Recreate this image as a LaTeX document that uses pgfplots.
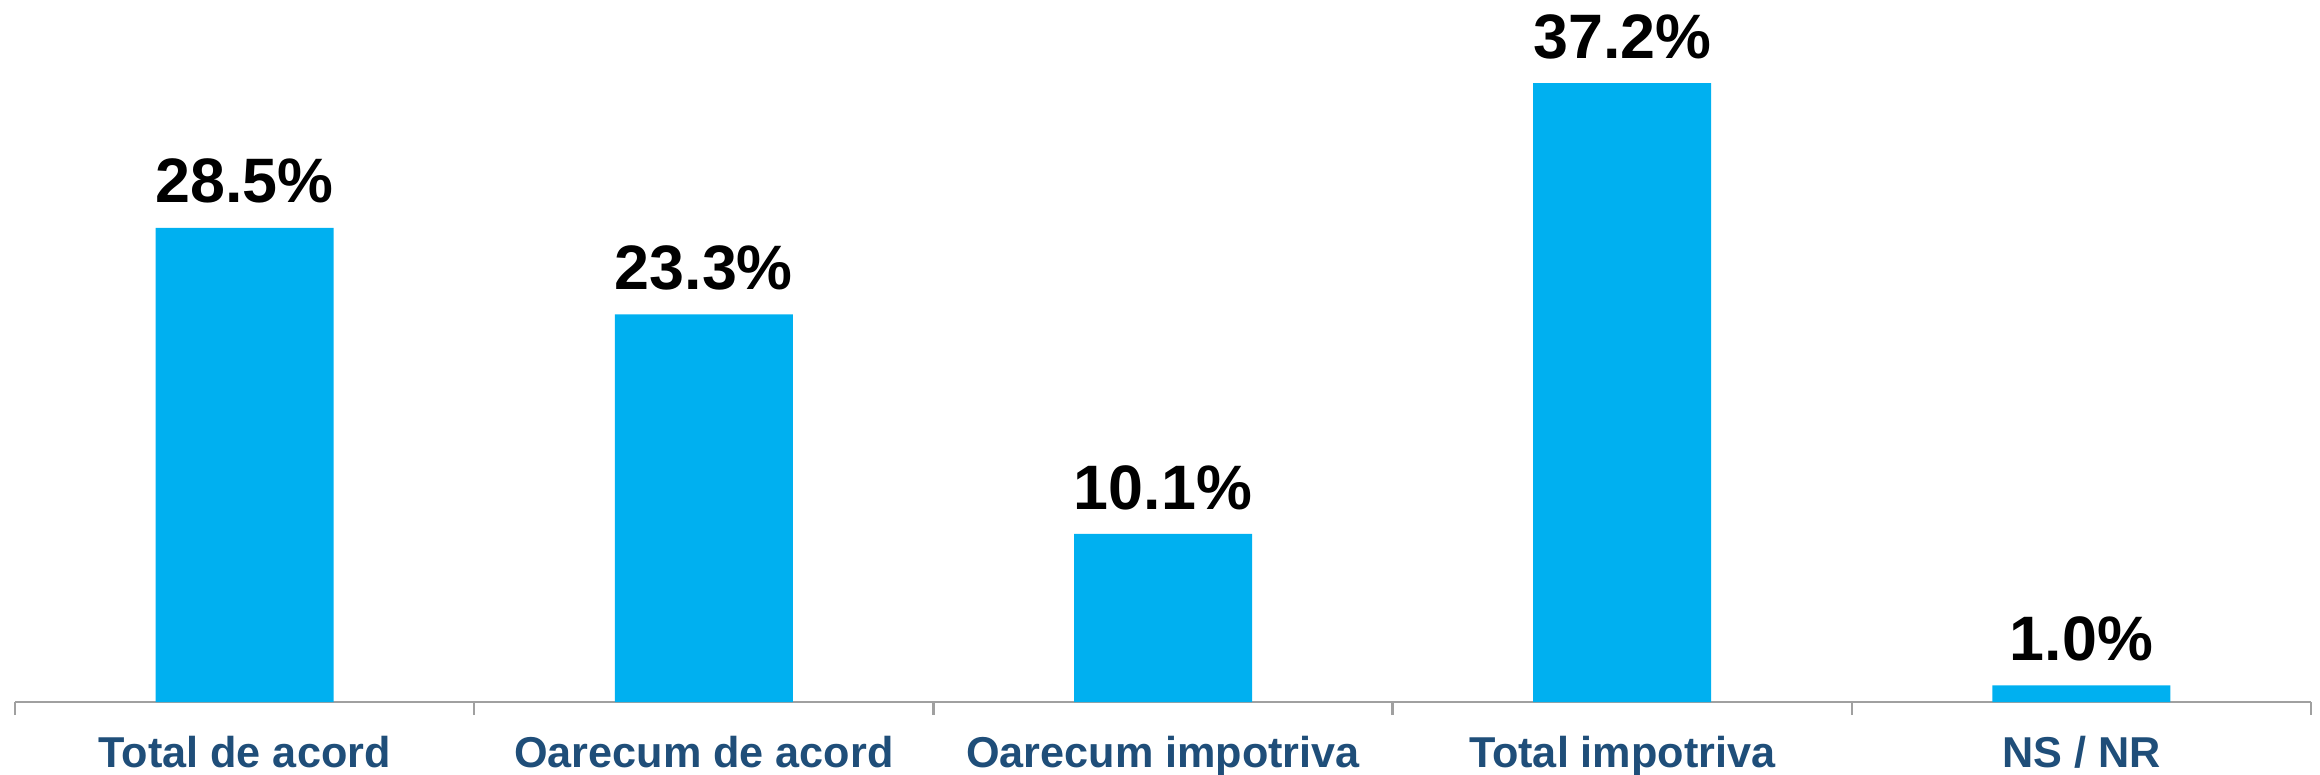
\documentclass[border=0pt]{standalone}
\usepackage{pgfplots}
\pgfplotsset{compat=1.18}
\usepackage{fontspec}
\setmainfont{Liberation Sans}
\definecolor{barblue}{HTML}{00B0F0}
\definecolor{labblue}{HTML}{1F4E79}
\definecolor{axgray}{HTML}{A0A0A0}
\begin{document}
\begin{tikzpicture}
% fixed page: 580pt x 193.5pt, axis line at y=0
\useasboundingbox (-3.75pt,-18pt) rectangle (576.25pt,175.5pt);
\begin{axis}[
    scale only axis,
    width=574pt,
    height=166.4pt,
    xmin=-0.5, xmax=4.5,
    ymin=0, ymax=40,
    axis x line*=bottom,
    axis y line=none,
    axis line style={axgray, line width=0.6pt},
    xtick={0,1,2,3,4},
    xticklabels={Total de acord, Oarecum de acord, Oarecum impotriva, Total impotriva, NS / NR},
    major tick length=0pt,
    minor xtick={-0.5,0.5,1.5,2.5,3.5,4.5},
    minor tick length=3.3pt,
    tick align=outside,
    minor tick style={axgray, line width=0.6pt},
    xticklabel style={font=\fontsize{10.8pt}{13pt}\selectfont\bfseries, text=labblue,
        inner sep=0pt, anchor=north, yshift=-8.25pt},
    /pgf/number format/assume math mode=true,
    ybar,
    bar width=44.5pt,
    nodes near coords={\pgfmathprintnumber[fixed, precision=1, fixed zerofill]{\pgfplotspointmeta}\%},
    nodes near coords style={font=\fontsize{15.7pt}{18pt}\selectfont\bfseries, text=black,
        inner sep=0pt, text depth=0pt, anchor=south, yshift=6pt},
    clip=false,
]
\addplot[fill=barblue, draw=none] coordinates {(0,28.5) (1,23.3) (2,10.1) (3,37.2) (4,1.0)};
\end{axis}
\end{tikzpicture}
\end{document}
